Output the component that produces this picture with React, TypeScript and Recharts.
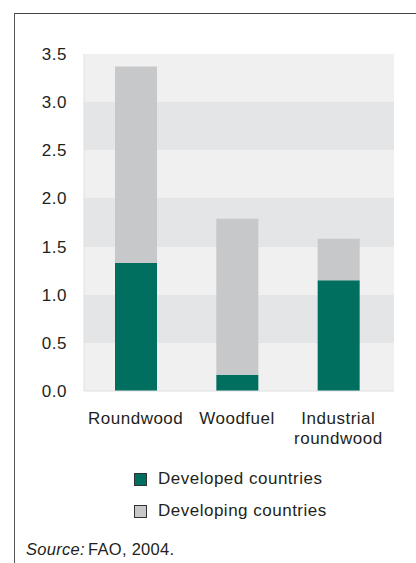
import React from "react";
import { BarChart, Bar, XAxis, YAxis, CartesianGrid } from "recharts";

const categories = ["Roundwood", "Woodfuel", "Industrial\nroundwood"];
const developed = [1.33, 0.17, 1.15];
const developing = [2.04, 1.62, 0.43];
const yTicks = [0, 0.5, 1, 1.5, 2, 2.5, 3, 3.5];

const seriesNames = ["Developed countries", "Developing countries"];
const seriesColors = ["#006f5f", "#c7c8ca"];

const data = categories.map((name, i) => ({
    name,
    developed: developed[i],
    developing: developing[i],
}));

const FONT = "'Liberation Sans', Arial, Helvetica, sans-serif";
const TEXT = "#231f20";

function CategoryTick(props: any) {
    const { x, y, payload } = props;
    const lines = String(payload.value).split("\n");
    return (
        <text
            x={x}
            y={y + 19}
            textAnchor="middle"
            fill={TEXT}
            fontSize={17}
            fontFamily={FONT}
            letterSpacing={0.5}
            dominantBaseline="central"
        >
            {lines.map((line, i) => (
                <tspan key={i} x={x} dy={i === 0 ? 0 : 20}>
                    {line}
                </tspan>
            ))}
        </text>
    );
}

function LegendBox() {
    return (
        <div style={{ fontFamily: FONT, fontSize: 17, color: TEXT, letterSpacing: 0.5 }}>
            {seriesNames.map((name, i) => (
                <div
                    key={name}
                    style={{ display: "flex", alignItems: "center", height: 32 }}
                >
                    <span
                        style={{
                            width: 11,
                            height: 11,
                            background: seriesColors[i],
                            border: "1px solid #333",
                            marginRight: 11,
                        }}
                    />
                    <span>{name}</span>
                </div>
            ))}
        </div>
    );
}

export default function App() {
    return (
        <div
            style={{
                position: "absolute",
                left: 0,
                top: 0,
                width: 416,
                height: 563,
                background: "#fff",
                overflow: "hidden",
            }}
        >
            <div
                style={{
                    position: "absolute",
                    left: 14,
                    top: 13,
                    right: 0,
                    bottom: 0,
                    borderLeft: "1.5px solid #555",
                    borderTop: "1.5px solid #444",
                }}
            />
            <div style={{ position: "absolute", left: 0, top: 0 }}>
                <BarChart
                    width={416}
                    height={563}
                    data={data}
                    margin={{ top: 54, right: 22, bottom: 142, left: 14 }}
                    barSize={42}
                >
                    <CartesianGrid
                        vertical={false}
                        stroke="none"
                        horizontalFill={["#f0f0f0", "#e4e5e7"]}
                        fillOpacity={1}
                    />
                    <XAxis
                        dataKey="name"
                        height={30}
                        axisLine={{ stroke: "#e0e0e0" }}
                        tickLine={false}
                        tick={<CategoryTick />}
                        interval={0}
                        padding={{ left: 1, right: 5 }}
                    />
                    <YAxis
                        width={70}
                        domain={[0, 3.5]}
                        ticks={yTicks}
                        axisLine={{ stroke: "#e0e0e0" }}
                        tickLine={false}
                        tickMargin={11}
                        tickFormatter={(v: number) => v.toFixed(1)}
                        tick={{ fill: TEXT, fontSize: 17, fontFamily: FONT, letterSpacing: 0.5 }}
                    />
                    <Bar
                        dataKey="developed"
                        name={seriesNames[0]}
                        stackId="a"
                        fill={seriesColors[0]}
                        isAnimationActive={false}
                    />
                    <Bar
                        dataKey="developing"
                        name={seriesNames[1]}
                        stackId="a"
                        fill={seriesColors[1]}
                        isAnimationActive={false}
                    />
                </BarChart>
            </div>
            <div style={{ position: "absolute", left: 134, top: 463 }}>
                <LegendBox />
            </div>
            <div
                style={{
                    position: "absolute",
                    left: 26,
                    top: 540,
                    fontFamily: FONT,
                    fontSize: 16.5,
                    color: TEXT,
                    letterSpacing: 0.3,
                }}
            >
                <i style={{ marginRight: 3 }}>Source:</i>FAO, 2004.
            </div>
        </div>
    );
}
